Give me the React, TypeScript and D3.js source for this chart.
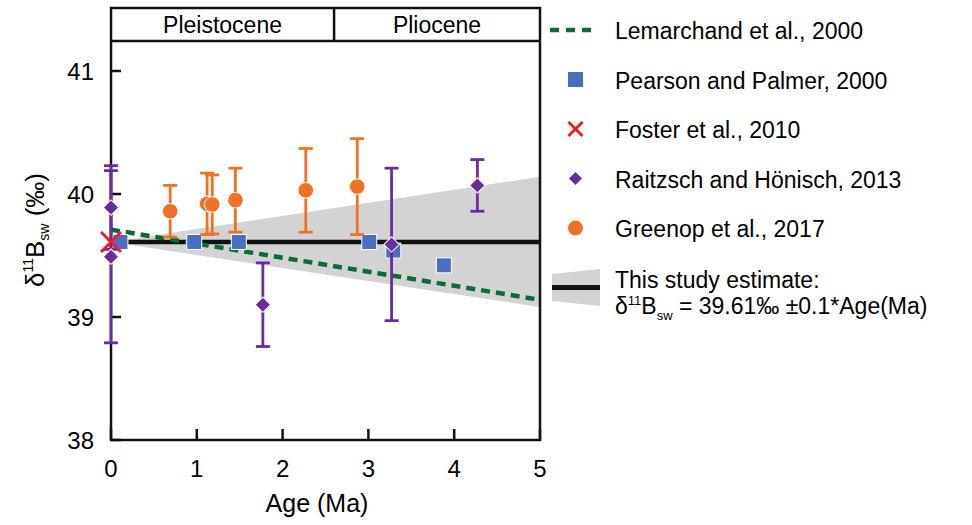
import React from 'react';
import * as d3 from 'd3';

// values (age in Ma, d11B of seawater in permil)
const xTicks = [0, 1, 2, 3, 4, 5];
const yTicks = [38, 39, 40, 41];

const epochNames = ['Pleistocene', 'Pliocene'];
const epochStart = [0, 2.6];
const epochEnd = [2.6, 5];

const bandAge = [0, 5];
const bandUpper = [39.61, 40.14];
const bandLower = [39.61, 39.08];

const fitAge = [0, 5];
const fitD11B = [39.61, 39.61];

const lemarchandAge = [0, 5];
const lemarchandD11B = [39.71, 39.14];

const pearsonAge = [0.11, 0.97, 1.49, 3.01, 3.29, 3.88];
const pearsonD11B = [39.61, 39.61, 39.61, 39.61, 39.54, 39.42];

const fosterAge = [0];
const fosterD11B = [39.61];

const raitzschAge = [0, 0, 1.77, 3.27, 4.27];
const raitzschD11B = [39.89, 39.49, 39.1, 39.59, 40.07];
const raitzschErr = [0.34, 0.7, 0.34, 0.62, 0.21];

const greenopAge = [0.69, 1.12, 1.18, 1.45, 2.27, 2.87];
const greenopD11B = [39.86, 39.92, 39.915, 39.95, 40.03, 40.06];
const greenopErr = [0.21, 0.25, 0.24, 0.26, 0.34, 0.39];

const legendLabels = [
  'Lemarchand et al., 2000',
  'Pearson and Palmer, 2000',
  'Foster et al., 2010',
  'Raitzsch and Hönisch, 2013',
  'Greenop et al., 2017',
];

const GREEN = '#0b6b35';
const BLUE = '#4a6ec0';
const RED = '#ec1c24';
const PURPLE = '#6a2c9e';
const ORANGE = '#ef7126';
const GREY = '#d3d3d3';
const FONT = '"Liberation Sans", Arial, Helvetica, sans-serif';

const left = 111;
const right = 540;
const frameTop = 8;
const bandBottom = 41;
const bottom = 440;

const App = () => {
  const x = d3.scaleLinear().domain([0, 5]).range([left, right]);
  const y = d3.scaleLinear().domain([38, 41]).range([bottom, 71]);

  const area = d3.area<number>()
    .x((d, i) => x(bandAge[i]))
    .y0((d, i) => y(bandLower[i]))
    .y1((d, i) => y(bandUpper[i]));

  const line = d3.line<[number, number]>()
    .x(d => x(d[0]))
    .y(d => y(d[1]));

  const diamond = d3.symbol().type(d3.symbolSquare).size(118)();

  const errBar = (cx: number, v: number, e: number, color: string, key: string) => (
    <g key={key} stroke={color} strokeWidth={2.8}>
      <line x1={cx} x2={cx} y1={y(v + e)} y2={y(v - e)} />
      <line x1={cx - 7} x2={cx + 7} y1={y(v + e)} y2={y(v + e)} />
      <line x1={cx - 7} x2={cx + 7} y1={y(v - e)} y2={y(v - e)} />
    </g>
  );

  const xMark = (cx: number, cy: number, r: number, w: number) => (
    <g stroke={RED} strokeWidth={w}>
      <line x1={cx - r} x2={cx + r} y1={cy - r} y2={cy + r} />
      <line x1={cx - r} x2={cx + r} y1={cy + r} y2={cy - r} />
    </g>
  );

  const legendY = (i: number) => 30 + i * 49.5;
  const lx = 575.5;

  return (
    <svg width={972} height={525} style={{ position: 'absolute', left: 0, top: 0 }} fontFamily={FONT}>
      <rect width={972} height={525} fill="#fff" />

      {/* estimate band and line */}
      <path d={area(bandAge) || ''} fill={GREY} />
      <path d={line(fitAge.map((a, i) => [a, fitD11B[i]])) || ''} stroke="#111" strokeWidth={4.5} fill="none" />
      <path
        d={line(lemarchandAge.map((a, i) => [a, lemarchandD11B[i]])) || ''}
        stroke={GREEN} strokeWidth={4.5} strokeDasharray="9,6" fill="none"
      />

      {/* frame */}
      <g stroke="#111" strokeWidth={2.5} fill="none">
        <rect x={left} y={frameTop} width={right - left} height={bottom - frameTop} />
        <line x1={left} x2={right} y1={bandBottom} y2={bandBottom} />
        {epochStart.slice(1).map((s, i) => (
          <line key={i} x1={x(s)} x2={x(s)} y1={frameTop} y2={bandBottom} />
        ))}
        {yTicks.map(t => <line key={t} x1={left} x2={left + 10} y1={y(t)} y2={y(t)} />)}
        {xTicks.map(t => <line key={t} x1={x(t)} x2={x(t)} y1={bottom} y2={bottom - 11} />)}
      </g>
      {epochNames.map((n, i) => (
        <text key={n} x={(x(epochStart[i]) + x(epochEnd[i])) / 2} y={33} fontSize={23} textAnchor="middle">{n}</text>
      ))}
      {yTicks.map(t => (
        <text key={t} x={94} y={y(t) + 8.5} fontSize={24} textAnchor="end">{t}</text>
      ))}
      {xTicks.map(t => (
        <text key={t} x={x(t)} y={477} fontSize={24} textAnchor="middle">{t}</text>
      ))}
      <text x={317} y={512} fontSize={25} textAnchor="middle">Age (Ma)</text>
      <text transform="translate(44,230) rotate(-90)" fontSize={26} textAnchor="middle">
        δ<tspan fontSize={14} dy={-11}>11</tspan>
        <tspan dy={11}>B</tspan>
        <tspan fontSize={14} dy={5}>sw</tspan>
        <tspan dy={-5}> (‰)</tspan>
      </text>

      {/* Pearson and Palmer */}
      {pearsonAge.map((a, i) => (
        <rect key={i} x={x(a) - 7.5} y={y(pearsonD11B[i]) - 7.5} width={15} height={15}
          fill={BLUE} stroke="#fff" strokeWidth={1} />
      ))}

      {/* Raitzsch and Hönisch */}
      {raitzschAge.map((a, i) => errBar(x(a), raitzschD11B[i], raitzschErr[i], PURPLE, 'r' + i))}
      {raitzschAge.map((a, i) => (
        <path key={i} d={diamond || ''} transform={`translate(${x(a)},${y(raitzschD11B[i])}) rotate(45)`}
          fill={PURPLE} stroke="#fff" strokeWidth={1} />
      ))}

      {/* Greenop */}
      {greenopAge.map((a, i) => errBar(x(a), greenopD11B[i], greenopErr[i], ORANGE, 'g' + i))}
      {greenopAge.map((a, i) => (
        <circle key={i} cx={x(a)} cy={y(greenopD11B[i])} r={7.8} fill={ORANGE} stroke="#fff" strokeWidth={1} />
      ))}

      {/* Foster */}
      {fosterAge.map((a, i) => <g key={i}>{xMark(x(a), y(fosterD11B[i]), 10, 3)}</g>)}

      {/* legend */}
      <line x1={550} x2={594} y1={legendY(0)} y2={legendY(0)} stroke={GREEN} strokeWidth={4.5} strokeDasharray="9,7" />
      <rect x={lx - 7.5} y={legendY(1) - 7.5} width={15} height={15} fill={BLUE} />
      {xMark(lx, legendY(2), 7, 2.8)}
      <path d={diamond || ''} transform={`translate(${lx},${legendY(3)}) rotate(45) scale(0.85)`} fill={PURPLE} />
      <circle cx={lx} cy={legendY(4)} r={7.5} fill={ORANGE} />
      {legendLabels.map((l, i) => (
        <text key={l} x={615} y={legendY(i) + 9} fontSize={23}>{l}</text>
      ))}

      <polygon points="552,274 600,269 600,306 552,301" fill={GREY} />
      <line x1={552} x2={600} y1={287.5} y2={287.5} stroke="#111" strokeWidth={5} />
      <text x={615} y={288} fontSize={23}>This study estimate:</text>
      <text x={615} y={314} fontSize={23}>
        δ<tspan fontSize={13} dy={-9}>11</tspan>
        <tspan dy={9}>B</tspan>
        <tspan fontSize={13} dy={6}>sw</tspan>
        <tspan dy={-6}> = 39.61‰ ±0.1*Age(Ma)</tspan>
      </text>
    </svg>
  );
};

export default App;
